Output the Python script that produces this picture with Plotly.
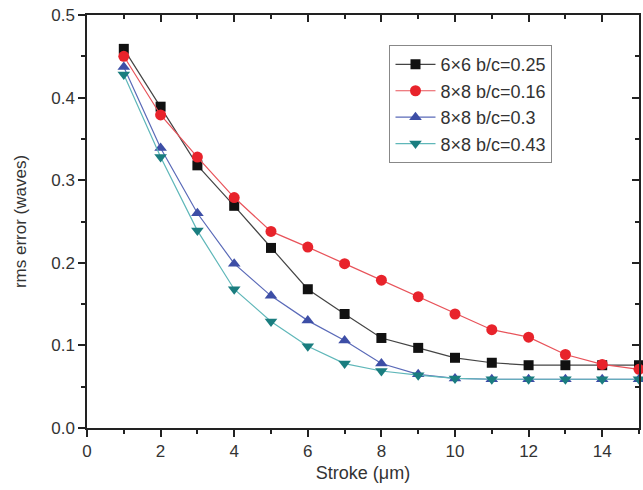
import plotly.graph_objects as go

stroke = [1, 2, 3, 4, 5, 6, 7, 8, 9, 10, 11, 12, 13, 14, 15]
s_6x6_025 = [0.459, 0.389, 0.318, 0.269, 0.218, 0.168, 0.138, 0.109, 0.097, 0.085, 0.079, 0.076, 0.076, 0.076, 0.076]
s_8x8_016 = [0.450, 0.379, 0.328, 0.279, 0.238, 0.219, 0.199, 0.179, 0.159, 0.138, 0.119, 0.110, 0.089, 0.077, 0.071]
s_8x8_03 = [0.437, 0.339, 0.260, 0.199, 0.160, 0.130, 0.106, 0.078, 0.065, 0.060, 0.059, 0.059, 0.059, 0.059, 0.059]
s_8x8_043 = [0.428, 0.328, 0.239, 0.168, 0.129, 0.099, 0.078, 0.069, 0.064, 0.060, 0.059, 0.059, 0.059, 0.059, 0.059]

names = ["6\u00d76 b/c=0.25", "8\u00d78 b/c=0.16", "8\u00d78 b/c=0.3", "8\u00d78 b/c=0.43"]
series = [s_6x6_025, s_8x8_016, s_8x8_03, s_8x8_043]
symbols = ["square", "circle", "triangle-up", "triangle-down"]
mcolors = ["#111111", "#e8232b", "#3d4ea6", "#1a7d7f"]
lcolors = ["#444444", "#e8535a", "#5a6ab8", "#5fb7b9"]
msizes = [10, 11, 11, 11]

font = "Liberation Sans, Arial, sans-serif"
fig = go.Figure()
for n, s, sym, mc, lc, ms in zip(names, series, symbols, mcolors, lcolors, msizes):
    fig.add_trace(go.Scatter(
        x=stroke, y=s, name=n, mode="lines+markers",
        line=dict(color=lc, width=1.2),
        marker=dict(symbol=sym, size=ms, color=mc, line=dict(width=0)),
        cliponaxis=False,
    ))
# invisible trace to hold mirrored axes
fig.add_trace(go.Scatter(x=[0, 15], y=[0, 0.5], xaxis="x2", yaxis="y2",
                         mode="markers", marker=dict(opacity=0), showlegend=False,
                         hoverinfo="skip"))

axbase = dict(showline=True, linecolor="#222222", linewidth=1.5, showgrid=False,
              zeroline=False, tickcolor="#222222", tickwidth=1.5, automargin=False)
tickfont = dict(family=font, size=17, color="#333333")
fig.update_layout(
    width=643, height=490,
    margin=dict(l=87, r=4, t=15, b=62),
    paper_bgcolor="white", plot_bgcolor="white",
    font=dict(family=font, color="#333333"),
    xaxis=dict(range=[0, 15], tickvals=[0, 2, 4, 6, 8, 10, 12, 14], ticks="outside", ticklen=7,
               tickfont=tickfont, ticklabeloverflow="allow",
               minor=dict(tickvals=[1, 3, 5, 7, 9, 11, 13, 15], ticks="outside", ticklen=4,
                          tickcolor="#222222", tickwidth=1.5),
               title=dict(text="Stroke (\u03bcm)", font=dict(family=font, size=18, color="#333333"),
                          standoff=6),
               **axbase),
    yaxis=dict(range=[0, 0.5], tickvals=[0, 0.1, 0.2, 0.3, 0.4, 0.5], tickformat=".1f",
               ticks="outside", ticklen=7, tickfont=tickfont, ticklabeloverflow="allow",
               minor=dict(tickvals=[0.05, 0.15, 0.25, 0.35, 0.45], ticks="outside", ticklen=4,
                          tickcolor="#222222", tickwidth=1.5),
               title=dict(text="rms error (waves)", font=dict(family=font, size=17, color="#333333"),
                          standoff=20),
               **axbase),
    xaxis2=dict(overlaying="x", side="top", range=[0, 15], tickvals=[0, 2, 4, 6, 8, 10, 12, 14],
                ticks="inside", ticklen=7, showticklabels=False,
                minor=dict(tickvals=[1, 3, 5, 7, 9, 11, 13], ticks="inside", ticklen=4,
                           tickcolor="#222222", tickwidth=1.5),
                **axbase),
    yaxis2=dict(overlaying="y", side="right", range=[0, 0.5], tickvals=[0, 0.1, 0.2, 0.3, 0.4, 0.5],
                ticks="inside", ticklen=7, showticklabels=False,
                minor=dict(tickvals=[0.05, 0.15, 0.25, 0.35, 0.45], ticks="inside", ticklen=4,
                           tickcolor="#222222", tickwidth=1.5),
                **axbase),
    legend=dict(x=0.548, y=0.927, xanchor="left", yanchor="top",
                bordercolor="#888888", borderwidth=1, bgcolor="white",
                font=dict(family=font, size=18, color="#333333"),
                tracegroupgap=0, itemwidth=40),
    showlegend=True,
)
# remove the default page margin so the figure sits at the window's corner
fig.write_html("out.html", config={"displayModeBar": False},
               post_script="document.body.style.margin='0';")
